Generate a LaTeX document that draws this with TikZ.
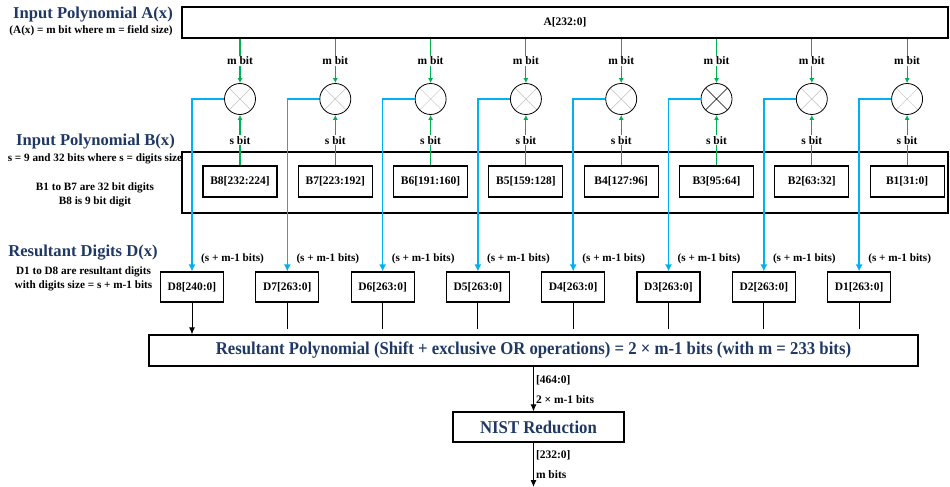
\documentclass[tikz,border=0pt]{standalone}
\usepackage{fontspec}
\setmainfont{Liberation Serif}
\usetikzlibrary{arrows.meta,calc}
\definecolor{navyc}{HTML}{1F3864}
\definecolor{bluec}{HTML}{00B0F0}
\definecolor{greenc}{HTML}{00B050}
\tikzset{
  gar/.style={-{Latex[length=5pt,width=5pt]},line width=1.1pt,greenc},
  bar/.style={-{Latex[length=7pt,width=7pt]},line width=1.5pt,bluec},
  kar/.style={-{Latex[length=7pt,width=6pt]},line width=1pt,black},
  box/.style={draw,line width=1.1pt,align=center,inner sep=2pt,font=\bfseries\fontsize{11.5}{13}\selectfont},
  lbl/.style={fill=white,text=black,inner sep=1pt,font=\bfseries\fontsize{11.5}{13}\selectfont},
  mulc/.style={circle,draw,line width=0.8pt,minimum size=31pt,inner sep=0pt,
    path picture={\draw[#1,line width=0.5pt] (path picture bounding box.north west)--(path picture bounding box.south east)
      (path picture bounding box.north east)--(path picture bounding box.south west);}},
  mulc/.default=gray!50,
  head/.style={navyc,font=\bfseries\fontsize{16.6}{18}\selectfont},
  note/.style={font=\bfseries\fontsize{11.2}{14}\selectfont,align=center},
  tiny/.style={font=\bfseries\fontsize{11.5}{12}\selectfont,inner sep=2pt},
  big/.style={text=navyc,font=\bfseries\fontsize{18}{20}\selectfont}
}

\begin{document}
\begin{tikzpicture}[x=1pt,y=-1pt]
\useasboundingbox (0,0) rectangle (950,487);
\node[head] (ahead) at (93,15) {Input Polynomial A(x)};
\node[note] (anote) at (91,31) {(A(x) = m bit where m = field size)};
\node[head] (bhead) at (95.5,142) {Input Polynomial B(x)};
\node[note] (bnote) at (95,159) {s = 9 and 32 bits where s = digits size};
\node[note] (bdig) at (95,195) {B1 to B7 are 32 bit digits\\B8 is 9 bit digit};
\node[head] (dhead) at (83,253) {Resultant Digits D(x)};
\node[note] (ddig) at (83.5,279) {D1 to D8 are resultant digits\\with digits size = s + m-1 bits};

\node[box,minimum width=766pt,minimum height=31pt] (abox) at (565,22.5) {A[232:0]};
\node[box,minimum width=766pt,minimum height=61pt] (bframe) at (565,182.5) {};
\node[box,big,minimum width=769pt,minimum height=31pt] (res) at (533.5,350.5)
  {\scalebox{0.93}[1]{Resultant Polynomial (Shift + exclusive OR operations) = 2 × m-1 bits (with m = 233 bits)}};
\node[box,big,minimum width=171pt,minimum height=30pt] (nist) at (538.5,427) {\scalebox{0.93}[1]{NIST Reduction}};

\foreach \i/\bl/\dl/\xc [evaluate=\i as \cx using 240+(\i-1)*95.3] in
  {1/B8[232:224]/D8[240:0]/gray!50,2/B7[223:192]/D7[263:0]/gray!50,3/B6[191:160]/D6[263:0]/gray!50,
   4/B5[159:128]/D5[263:0]/gray!50,5/B4[127:96]/D4[263:0]/gray!50,6/B3[95:64]/D3[263:0]/black,
   7/B2[63:32]/D2[263:0]/gray!50,8/B1[31:0]/D1[263:0]/gray!50}{
  \node[mulc=\xc] (m\i) at (\cx,99) {};
  \node[box,minimum width=74pt,minimum height=31pt] (b\i) at (\cx,181.5) {\bl};
  \node[box,minimum width=63pt,minimum height=30pt] (d\i) at (\cx-48,287) {\dl};
  \draw[gar] (abox.south -| m\i.north) -- node[lbl]{m bit} (m\i.north);
  \draw[gar] (b\i.north) -- node[lbl]{s bit} (m\i.south);
  \draw[bar] (m\i.west) -| (d\i.north);
  \node[note,anchor=south west,inner sep=0pt] (s\i) at ([xshift=9pt,yshift=7pt]d\i.north) {(s + m-1 bits)};
}
\draw[kar] (d1.south) -- (d1.south |- res.north);
\foreach \i in {2,...,8} \draw[line width=1pt,shorten >=5pt] (d\i.south) -- (d\i.south |- res.north);

\draw[kar] (res.south) -- node[tiny,pos=0.3,right]{[464:0]} node[tiny,pos=0.74,right]{2 × m-1 bits} (res.south |- nist.north);
\coordinate (out) at (533.5,487);
\draw[kar] (nist.south -| res.south) -- node[tiny,pos=0.29,right]{[232:0]} node[tiny,pos=0.73,right]{m bits} (out);
\end{tikzpicture}
\end{document}
